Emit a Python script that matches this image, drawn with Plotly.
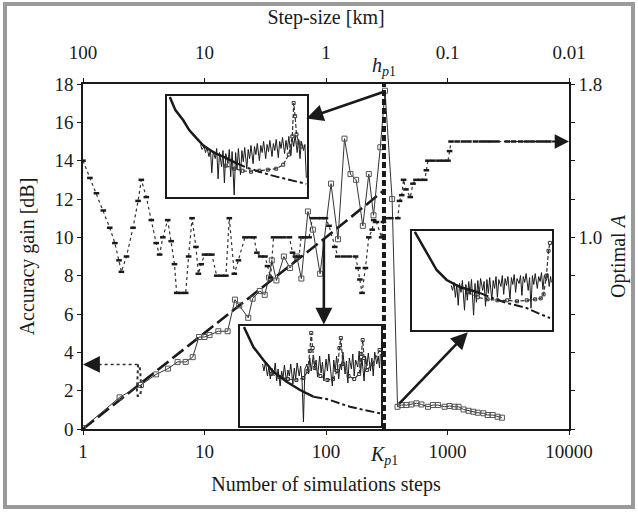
import numpy as np
import plotly.graph_objects as go

# ---------------- data ----------------
steps = [1, 2, 3, 4, 5, 6, 7, 8, 9, 10, 11, 13, 15.5, 17.8, 19.3, 22.9, 24.9, 28.5, 31.3, 34,
         35.8, 39.1, 45, 50.5, 57.5, 62.7, 71, 78, 89.4, 110, 125.5, 142, 159, 177, 201, 225,
         246, 280, 306, 350, 388, 418, 459, 505, 555, 610, 691, 759, 834, 946, 1040, 1143,
         1233, 1355, 1490, 1634, 1774, 1974, 2141, 2353, 2585, 2805]
gain = [0.05, 1.65, 2.3, 2.85, 3.15, 3.5, 3.5, 3.75, 4.8, 4.8, 4.9, 5.1, 5.1, 6.75, 6.45, 5.8,
        6.8, 7.2, 7.0, 7.9, 8.8, 7.75, 9.0, 8.4, 9.0, 7.85, 11.35, 10.4, 8.1, 12.8, 9.9, 15.15,
        13.3, 13.0, 10.6, 13.3, 11.15, 14.7, 17.65, 12.0, 1.16, 1.25, 1.25, 1.28, 1.34, 1.28,
        1.16, 1.25, 1.25, 1.16, 1.2, 1.16, 1.16, 1.02, 0.95, 0.9, 0.85, 0.82, 0.73, 0.73,
        0.64, 0.59]

theory_steps = [1, 3, 10, 30, 100, 300]
theory_gain = [0, 2.4, 5.0, 7.4, 10.0, 12.45]

A_steps = [1, 1.14, 1.29, 1.47, 1.66, 1.83, 1.98, 2.07, 2.28, 2.58, 2.84, 3.02, 3.32, 3.65,
           4.0, 4.27, 4.54, 4.98, 5.32, 5.66, 5.9, 6.4, 7.0, 7.4, 7.9, 8.5, 8.9, 9.4, 10.0,
           10.7, 11.5, 12.6, 13.8, 15.0, 16.0, 17.6, 19.0, 21.5, 23.5, 25.5, 27.0, 29.0, 31.5,
           33.0, 35.0, 37.0, 41.0, 45.0, 50.0, 53.0, 56.0, 60.0, 62.4, 67.0, 72.6, 77.3, 85.0,
           92.0, 99.0, 106, 118, 125, 140, 155, 175, 183, 190, 198, 211, 225, 240, 247, 260,
           287, 297, 306, 340, 390, 403, 420, 435, 455, 494, 520, 550, 600, 650, 670, 690, 760,
           850, 930, 1010, 1040, 1070, 1200, 1350, 1500, 1700, 1900, 2100, 2300, 2550, 3100,
           3500, 4000, 4500, 5000, 5600, 6200, 6800]
A_vals = [1.40, 1.31, 1.23, 1.14, 1.05, 0.97, 0.88, 0.82, 0.90, 1.05, 1.19, 1.30, 1.21, 1.09,
          0.97, 0.91, 1.00, 1.09, 0.98, 0.86, 0.71, 0.71, 0.71, 0.90, 1.10, 0.95, 0.81, 0.86,
          0.91, 0.91, 0.91, 0.80, 0.80, 0.80, 1.10, 0.81, 0.88, 1.00, 1.00, 1.00, 0.92, 0.90,
          0.90, 0.85, 0.79, 1.00, 1.00, 1.00, 1.00, 0.92, 0.90, 0.90, 1.00, 1.00, 1.00, 1.10,
          1.10, 1.10, 1.10, 1.06, 0.95, 0.90, 0.90, 0.90, 0.90, 0.84, 0.78, 0.71, 0.84, 1.00,
          1.04, 1.09, 1.08, 1.00, 1.08, 1.10, 1.10, 1.10, 1.19, 1.22, 1.30, 1.25, 1.21, 1.28,
          1.30, 1.30, 1.30, 1.35, 1.40, 1.40, 1.40, 1.40, 1.40, 1.45, 1.50, 1.50, 1.50, 1.50,
          1.50, 1.50, 1.50, 1.50, 1.50, 1.50, 1.50, 1.50, 1.50, 1.50, 1.50, 1.50, 1.50]

loop_steps = [2.84, 2.80, 2.78, 2.82, 2.95, 3.02, 3.0, 2.95, 2.9]
loop_gain = [3.37, 2.8, 2.0, 1.72, 1.72, 2.1, 2.7, 3.1, 3.37]

K_p1 = 300

# inset 1
dec1_u = [2, 6, 11.6, 16, 21.2, 26, 30.7, 35, 40.2, 45, 49.8]
dec1_w = [99, 86, 76, 66, 58, 51, 46.5, 43, 40, 36.5, 33.4]
tail1_u = [49.8, 57, 64, 73, 83, 91, 99.5]
tail1_w = [33.4, 29, 26, 22, 18.5, 15.5, 13]
noise1_u = [24, 25, 26.5, 27.5, 28.5, 30, 31, 32, 33, 34.5, 35.5, 36.5, 37.5, 39, 40, 41, 42,
            43.5, 44.5, 45.5, 46.5, 48, 49, 50, 51, 52.5, 53.5, 54.5, 55.5, 57, 58, 59, 60,
            61.5, 62.5, 63.5, 64.5, 66, 67, 68, 69, 70.5, 71.5, 72.5, 73.5, 75, 76, 77, 78,
            79.5, 80.5, 81.5, 82.5, 84, 85, 86, 87, 88.5, 89.5, 90.5, 91.5, 93, 94, 95, 96,
            97.5, 98.5, 99.5]
noise1_w = [52, 47, 50, 44, 49, 40, 47, 24, 45, 38, 48, 18, 44, 30, 46, 14, 43, 33, 47, 20, 45,
            2, 44, 27, 48, 22, 46, 35, 49, 28, 47, 38, 51, 33, 50, 42, 53, 36, 51, 44, 55, 38,
            52, 45, 56, 40, 53, 46, 57, 39, 55, 48, 59, 43, 56, 47, 60, 41, 58, 50, 61, 44, 57,
            38, 55, 46, 52, 19]
dash1_u = [42, 48, 54, 60, 66, 72, 78, 83, 87, 89.5, 90.5, 91.5, 92.5, 94, 96]
dash1_w = [31, 28, 26, 25, 26, 27, 28, 32, 42, 60, 93, 80, 62, 54, 50]

# inset 2
dec2_u = [2.8, 9.5, 16.6, 23.6, 33.1, 42.6, 52]
dec2_w = [99, 79, 66, 54.3, 44.3, 36, 29.3]
tail2_u = [52, 61.5, 70, 78, 88, 99.3]
tail2_w = [29.3, 27, 23, 19.3, 16, 12.7]
noise2_u = [16, 17, 18, 19.5, 20.5, 21.5, 22.5, 24, 25, 26, 27, 28.5, 29.5, 30.5, 31.5, 33, 34,
            35, 36, 37.5, 38.5, 39.5, 40.5, 42, 43, 44, 45, 46, 47.5, 48.5, 49.5, 50.5, 52, 53,
            54, 55, 56.5, 57.5, 58.5, 59.5, 61, 62, 63, 64, 65.5, 66.5, 67.5, 68.5, 70, 71, 72,
            73, 74.5, 75.5, 76.5, 77.5, 79, 80, 81, 82, 83.5, 84.5, 85.5, 86.5, 88, 89, 90, 91,
            92.5, 93.5, 94.5, 95.5, 97, 98, 99, 99.5]
noise2_w = [62, 55, 64, 50, 60, 47, 58, 52, 63, 45, 57, 40, 55, 48, 61, 44, 56, 50, 62, 42, 58,
            47, 63, 50, 60, 46, 4, 57, 62, 52, 68, 55, 71, 58, 66, 49, 70, 53, 64, 45, 67, 55,
            72, 58, 40, 66, 54, 70, 47, 62, 56, 74, 52, 65, 43, 68, 57, 72, 50, 66, 59, 75, 53,
            68, 45, 70, 60, 73, 55, 68, 50, 74, 62, 70, 58, 72]
dash2_u = [22, 28, 34, 40, 45, 48, 49.5, 50.5, 51.5, 53, 57, 62, 66, 69, 70.5, 71.5, 73, 77, 81,
           84.5, 86, 87, 88, 90, 94, 99]
dash2_w = [52, 49, 47, 46, 48, 55, 75, 93, 78, 58, 50, 46, 47, 55, 78, 88, 62, 50, 47, 52, 72,
           86, 68, 56, 62, 76]

# inset 3
dec3_u = [2, 10.5, 17.6, 24.8, 34.3, 48.6]
dec3_w = [99, 77.5, 60.6, 50.5, 43.4, 37.4]
tail3_u = [48.6, 58, 67.6, 75, 81.9, 90, 98.6]
tail3_w = [37.4, 32, 27.3, 25, 22.2, 17, 12.1]
noise3_u = [28, 29, 30, 31, 32, 33, 34, 35, 36, 37.5, 38.5, 39.5, 40.5, 41.5, 42.5, 44, 45, 46,
            47, 48, 49, 50.5, 51.5, 52.5, 53.5, 54.5, 55.5, 57, 58, 59, 60, 61, 62, 63.5, 64.5,
            65.5, 66.5, 67.5, 68.5, 70, 71, 72, 73, 74, 75, 76.5, 77.5, 78.5, 79.5, 80.5, 81.5,
            83, 84, 85, 86, 87, 88, 89.5, 90.5, 91.5, 92.5, 93.5, 94.5, 96, 97, 98, 99, 99.5]
noise3_w = [45, 40, 48, 33, 46, 25, 47, 38, 50, 20, 46, 30, 49, 36, 51, 15, 47, 28, 50, 35, 52,
            40, 49, 24, 51, 37, 53, 30, 50, 42, 54, 33, 51, 44, 55, 36, 52, 45, 54, 31, 53, 46,
            56, 38, 52, 47, 55, 35, 54, 48, 57, 40, 53, 22, 55, 46, 57, 42, 54, 49, 58, 41, 55,
            50, 57, 44, 54, 48]
dash3_u = [40, 47, 54, 61, 68, 75, 82, 88, 92, 94, 96, 97.5, 98.5]
dash3_w = [38, 33, 31, 30, 30, 29, 30, 31, 32, 36, 55, 80, 88]

bottom_ticks = [1, 10, 100, 1000, 10000]
bottom_text = ["1", "10", "100", "1000", "10000"]
top_text = ["100", "10", "1", "0.1", "0.01"]
left_ticks = [0, 2, 4, 6, 8, 10, 12, 14, 16, 18]
right_ticks = [0, 0.2, 0.4, 0.6, 0.8, 1.0, 1.2, 1.4, 1.6, 1.8]
right_text = ["", "", "", "", "", "1.0", "", "", "", "1.8"]

# ---------------- layout geometry (pixels) ----------------
W, H = 638, 512
PL, PR, PT, PB = 83, 569, 84, 429


def fx(px):
    return (px - PL) / (PR - PL)


def fy(py):
    return (PB - py) / (PB - PT)


insets = [(167, 307, 96, 197), (240, 381, 326, 426), (412, 552, 231, 330)]

FONT = "Liberation Serif, Times New Roman, Times, serif"
INK = "#1a1a1a"

fig = go.Figure()

# main series
fig.add_trace(go.Scatter(x=A_steps, y=A_vals, yaxis="y2", mode="lines+markers",
                         line=dict(color="#333", width=1.2, dash="dot"),
                         marker=dict(symbol="line-ew", size=4, line=dict(color=INK, width=2.5)),
                         showlegend=False))
fig.add_trace(go.Scatter(x=theory_steps, y=theory_gain, mode="lines",
                         line=dict(color=INK, width=2.6, dash="14px,5px"), showlegend=False))
fig.add_trace(go.Scatter(x=steps, y=gain, mode="lines+markers",
                         line=dict(color="#333", width=1),
                         marker=dict(symbol="square-open", size=5, color="#555",
                                     line=dict(width=1)),
                         showlegend=False))
fig.add_trace(go.Scatter(x=loop_steps, y=loop_gain, mode="lines",
                         line=dict(color="#333", width=2, dash="dot"), showlegend=False))
fig.add_trace(go.Scatter(x=[K_p1, K_p1], y=[0, 18], mode="lines",
                         line=dict(color=INK, width=4, dash="6px,3px"), showlegend=False))
# dotted tail of the left-pointing arrow
fig.add_trace(go.Scatter(x=[1.2, loop_steps[0]], y=[loop_gain[0], loop_gain[0]], mode="lines",
                         line=dict(color="#333", width=1.5, dash="dot"), showlegend=False))
# top axis carrier
fig.add_trace(go.Scatter(x=[1, 10000], y=[None, None], xaxis="x2", mode="lines",
                         showlegend=False, hoverinfo="skip"))

# insets
inset_data = [
    (dec1_u, dec1_w, tail1_u, tail1_w, noise1_u, noise1_w, dash1_u, dash1_w),
    (dec2_u, dec2_w, tail2_u, tail2_w, noise2_u, noise2_w, dash2_u, dash2_w),
    (dec3_u, dec3_w, tail3_u, tail3_w, noise3_u, noise3_w, dash3_u, dash3_w),
]
for i, (du, dw, tu, tw, nu, nw, su, sw) in enumerate(inset_data):
    xa, ya = f"x{i + 3}", f"y{i + 3}"
    fig.add_trace(go.Scatter(x=nu, y=nw, xaxis=xa, yaxis=ya, mode="lines",
                             line=dict(color=INK, width=1), showlegend=False))
    fig.add_trace(go.Scatter(x=su, y=sw, xaxis=xa, yaxis=ya, mode="lines+markers",
                             line=dict(color="#333", width=1.2, dash="4px,2px"),
                             marker=dict(symbol="square-open", size=3, color="#333"),
                             showlegend=False))
    fig.add_trace(go.Scatter(x=tu, y=tw, xaxis=xa, yaxis=ya, mode="lines",
                             line=dict(color=INK, width=2, dash="dashdot"), showlegend=False))
    fig.add_trace(go.Scatter(x=du, y=dw, xaxis=xa, yaxis=ya, mode="lines",
                             line=dict(color=INK, width=2.5), showlegend=False))

tickfont = dict(family=FONT, size=19, color=INK)
titlefont = dict(family=FONT, size=20, color=INK)
axis_common = dict(showline=True, linecolor=INK, linewidth=1.5, ticks="outside", ticklen=4,
                   tickcolor=INK, showgrid=False, zeroline=False, tickfont=tickfont)

layout = dict(
    width=W, height=H,
    margin=dict(l=PL, r=W - PR, t=PT, b=H - PB, pad=0),
    paper_bgcolor="white", plot_bgcolor="white",
    showlegend=False,
    font=dict(family=FONT, color=INK),
    xaxis=dict(type="log", range=[0, 4], tickvals=bottom_ticks, ticktext=bottom_text,
               title=dict(text="Number of simulations steps", font=titlefont, standoff=16),
               **axis_common),
    xaxis2=dict(type="log", range=[0, 4], overlaying="x", side="top", anchor="y",
                tickvals=bottom_ticks, ticktext=top_text, ticklabelstandoff=12,
                title=dict(text="Step-size [km]", font=titlefont, standoff=12),
                **axis_common),
    yaxis=dict(range=[0, 18], tickvals=left_ticks,
               title=dict(text="Accuracy gain [dB]", font=titlefont, standoff=14),
               **axis_common),
    yaxis2=dict(range=[0, 1.8], overlaying="y", side="right", anchor="x",
                tickvals=right_ticks, ticktext=right_text,
                title=dict(text="Optimal <i>A</i>", font=titlefont, standoff=10),
                **axis_common),
)
for i, (x0, x1, y0, y1) in enumerate(insets):
    n = i + 3
    layout[f"xaxis{n}"] = dict(domain=[fx(x0), fx(x1)], range=[0, 100], anchor=f"y{n}",
                               showline=True, mirror=True, linecolor=INK, linewidth=1.8,
                               showticklabels=False, ticks="", showgrid=False, zeroline=False)
    layout[f"yaxis{n}"] = dict(domain=[fy(y1), fy(y0)], range=[0, 100], anchor=f"x{n}",
                               showline=True, mirror=True, linecolor=INK, linewidth=1.8,
                               showticklabels=False, ticks="", showgrid=False, zeroline=False)
fig.update_layout(**layout)

lg = np.log10
arrow_style = dict(showarrow=True, arrowhead=2, arrowsize=1.3, arrowwidth=2.6,
                   arrowcolor=INK, text="", axref="x", ayref="y", xref="x", yref="y")
fig.add_annotation(x=lg(69), y=16.2, ax=lg(K_p1), ay=17.6, **arrow_style)
fig.add_annotation(x=lg(96), y=5.45, ax=lg(96), ay=10.0, **arrow_style)
fig.add_annotation(x=lg(1469), y=5.05, ax=lg(390), ay=1.25, **arrow_style)
fig.add_annotation(x=lg(1), y=loop_gain[0], ax=lg(1.25), ay=loop_gain[0], **arrow_style)
fig.add_annotation(x=lg(10000), y=1.5, ax=lg(7000), ay=1.5, showarrow=True, arrowhead=2,
                   arrowsize=1.3, arrowwidth=2.2, arrowcolor=INK, text="",
                   axref="x", ayref="y2", xref="x", yref="y2")

# K_p1 / h_p1 labels
fig.add_annotation(x=lg(K_p1), y=fy(455), xref="x", yref="paper", showarrow=False,
                   xanchor="center", yanchor="middle",
                   text="<i>K</i><sub><i>p</i>1</sub>", font=dict(family=FONT, size=20, color=INK))
fig.add_annotation(x=lg(K_p1), y=fy(67), xref="x", yref="paper", showarrow=False,
                   xanchor="center", yanchor="middle",
                   text="<i>h</i><sub><i>p</i>1</sub>", font=dict(family=FONT, size=20, color=INK))

# grey frame around the figure
fig.add_shape(type="rect", xref="paper", yref="paper", x0=fx(5), x1=fx(633), y0=fy(507),
              y1=fy(4), line=dict(color="#9a9a9a", width=4), fillcolor="rgba(0,0,0,0)")

fig.write_html("out.html")
